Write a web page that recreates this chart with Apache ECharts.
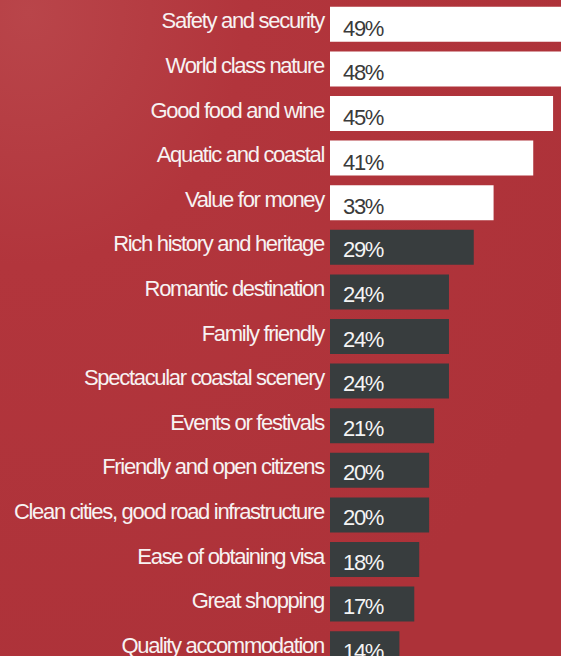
<!DOCTYPE html>
<html>
<head>
<meta charset="utf-8">
<script src="https://cdn.jsdelivr.net/npm/echarts@6/dist/echarts.min.js"></script>
<style>
  html, body { margin: 0; padding: 0; background: #b1343b; overflow: hidden; }
  #chart { width: 561px; height: 656px; }
  /* tight tracking for all chart text */
  #chart svg text { letter-spacing: -1.3px; }
</style>
</head>
<body>
<div id="chart"></div>
<script>
// Reasons to visit, share of respondents (%)
const categories = [
  'Safety and security',
  'World class nature',
  'Good food and wine',
  'Aquatic and coastal',
  'Value for money',
  'Rich history and heritage',
  'Romantic destination',
  'Family friendly',
  'Spectacular coastal scenery',
  'Events or festivals',
  'Friendly and open citizens',
  'Clean cities, good road infrastructure',
  'Ease of obtaining visa',
  'Great shopping',
  'Quality accommodation'
];
const values = [49, 48, 45, 41, 33, 29, 24, 24, 24, 21, 20, 20, 18, 17, 14];
const highlightedCount = 5;

const chart = echarts.init(document.getElementById('chart'), null, { renderer: 'svg' });

const barData = values.map((v, i) => {
  const top = i < highlightedCount;
  return {
    value: v,
    itemStyle: { color: top ? '#ffffff' : '#383d3e' },
    label: {
      color: top ? '#3a3a3a' : '#f4f4f4',
      offset: [8, top ? 4 : 2.5]
    }
  };
});

chart.setOption({
  backgroundColor: {
    type: 'radial', x: 0.05, y: 0.02, r: 1.1,
    colorStops: [
      { offset: 0, color: '#b9454a' },
      { offset: 0.35, color: '#b2353c' },
      { offset: 1, color: '#ad3239' }
    ]
  },
  animation: false,
  grid: {
    left: 330, width: 231, top: 2, height: 669,
    containLabel: false,
    outerBoundsMode: 'none'
  },
  xAxis: {
    type: 'value', min: 0, max: 46.6,
    show: false
  },
  yAxis: {
    type: 'category',
    data: categories,
    inverse: true,
    axisLine: { show: false },
    axisTick: { show: false },
    splitLine: { show: false },
    axisLabel: {
      margin: 6,
      formatter: (name) => '{c|' + name + '}',
      rich: {
        c: {
          color: '#f7f2f2',
          fontFamily: 'Liberation Sans, Arial, sans-serif',
          fontSize: 22,
          lineHeight: 22,
          padding: [0, 0, 7, 0]
        }
      }
    }
  },
  series: [{
    type: 'bar',
    data: barData,
    barWidth: 35,
    clip: true,
    label: {
      show: true,
      position: 'insideLeft',
      formatter: '{c}%',
      fontFamily: 'Liberation Sans, Arial, sans-serif',
      fontSize: 22
    }
  }]
});
</script>
</body>
</html>
